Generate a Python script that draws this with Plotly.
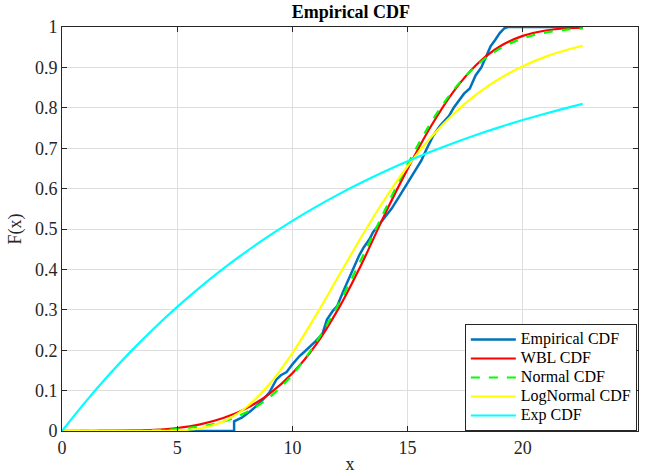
import plotly.graph_objects as go

# ---- data ----
x_fit = [0, 1, 2, 3, 4, 5, 6, 7, 8, 9, 10, 11, 12, 13, 14, 15, 16, 17, 18, 19, 20, 21, 22, 22.6]

wbl_cdf = [0.0, 0.0, 0.0001, 0.0008, 0.0027, 0.0074, 0.0165, 0.0320, 0.0560, 0.0920, 0.1430, 0.2120,
           0.3030, 0.4130, 0.5350, 0.6488, 0.7531, 0.8408, 0.9071, 0.9517, 0.9780, 0.9914, 0.9972, 0.9987]

normal_cdf = [0.0, 0.0001, 0.0003, 0.0007, 0.0020, 0.0049, 0.0113, 0.0237, 0.0462, 0.0833, 0.1392, 0.2165,
              0.3138, 0.4263, 0.5453, 0.6602, 0.7620, 0.8442, 0.9051, 0.9464, 0.9719, 0.9864, 0.9939, 0.9964]

lognormal_cdf = [0.0, 0.0, 0.0, 0.0, 0.0001, 0.0012, 0.0069, 0.0237, 0.0588, 0.1157, 0.1928, 0.2844,
                 0.3829, 0.4809, 0.5730, 0.6553, 0.7261, 0.7854, 0.8338, 0.8725, 0.9029, 0.9266, 0.9448, 0.9535]

exp_cdf = [0.0, 0.0708, 0.1366, 0.1977, 0.2545, 0.3073, 0.3563, 0.4019, 0.4442, 0.4835, 0.5201, 0.5541,
           0.5857, 0.6150, 0.6423, 0.6676, 0.6911, 0.7130, 0.7333, 0.7522, 0.7697, 0.7860, 0.8012, 0.8097]

emp_x = [0, 7.47, 7.47, 7.8, 8.2, 8.6, 9.0, 9.3, 9.5, 9.75, 10.0, 10.3, 10.5, 10.8, 11.0, 11.3, 11.5,
         11.75, 11.95, 12.2, 12.5, 12.65, 12.9, 13.1, 13.35, 13.5, 13.75, 14.05, 14.3, 14.6, 14.85, 15.1,
         15.35, 15.6, 15.8, 16.1, 16.4, 16.8, 17.0, 17.25, 17.45, 17.7, 17.95, 18.2, 18.4, 18.6, 18.8,
         19.0, 19.2, 19.35, 22.6]
emp_y = [0, 0, 0.024, 0.033, 0.05, 0.07, 0.095, 0.127, 0.138, 0.146, 0.165, 0.185, 0.195, 0.21, 0.222,
         0.24, 0.276, 0.297, 0.31, 0.345, 0.382, 0.40, 0.435, 0.455, 0.475, 0.492, 0.51, 0.53, 0.55, 0.577,
         0.60, 0.625, 0.645, 0.67, 0.695, 0.73, 0.755, 0.78, 0.80, 0.82, 0.835, 0.848, 0.88, 0.90, 0.925,
         0.952, 0.968, 0.985, 0.997, 1.0, 1.0]

series_names = ["Empirical CDF", "WBL CDF", "Normal CDF", "LogNormal CDF", "Exp CDF"]

x_ticks = [0, 5, 10, 15, 20, 25]
x_tick_text = ["0", "5", "10", "15", "20", "25"]
y_ticks = [0, 0.1, 0.2, 0.3, 0.4, 0.5, 0.6, 0.7, 0.8, 0.9, 1]
y_tick_text = ["0", "0.1", "0.2", "0.3", "0.4", "0.5", "0.6", "0.7", "0.8", "0.9", "1"]

FONT = "Liberation Serif"
AX = "#262626"


def lg(name):
    return ('<span style="font-family:Liberation Serif;font-size:16px">' + name + '</span>')


fig = go.Figure()
fig.add_trace(go.Scatter(x=emp_x, y=emp_y, mode="lines", name=lg(series_names[0]),
                         line=dict(color="#0072BD", width=2.5)))
fig.add_trace(go.Scatter(x=x_fit, y=wbl_cdf, mode="lines", name=lg(series_names[1]),
                         line=dict(color="#FF0000", width=2.2, shape="spline")))
fig.add_trace(go.Scatter(x=x_fit, y=normal_cdf, mode="lines", name=lg(series_names[2]),
                         line=dict(color="#00FF00", width=2.2, dash="dash", shape="spline")))
fig.add_trace(go.Scatter(x=x_fit, y=lognormal_cdf, mode="lines", name=lg(series_names[3]),
                         line=dict(color="#FFFF00", width=2.2, shape="spline")))
fig.add_trace(go.Scatter(x=x_fit, y=exp_cdf, mode="lines", name=lg(series_names[4]),
                         line=dict(color="#00FFFF", width=2.2, shape="spline")))

axis_common = dict(showline=True, linecolor=AX, linewidth=1, mirror="ticks",
                   ticks="inside", ticklen=5, tickcolor=AX, showgrid=True,
                   gridcolor="#dedede", gridwidth=1, zeroline=False,
                   tickfont=dict(family=FONT, size=18, color=AX))

fig.update_layout(
    width=645, height=476,
    margin=dict(l=62, r=6, t=27, b=40),
    paper_bgcolor="white", plot_bgcolor="white",
    title=dict(text="<b>Empirical CDF</b>", x=0.544, xanchor="center",
               y=1 - 12 / 476, yanchor="middle", yref="container",
               font=dict(family=FONT, size=18, color="black")),
    xaxis=dict(range=[0, 25], tickvals=x_ticks, ticktext=x_tick_text,
               title=dict(text="x", font=dict(family=FONT, size=18, color=AX), standoff=0),
               **axis_common),
    yaxis=dict(range=[0, 1], tickvals=y_ticks, ticktext=y_tick_text,
               title=dict(text="F(x)", font=dict(family=FONT, size=18, color=AX), standoff=8),
               **axis_common),
    legend=dict(x=0.998, y=0.0, xanchor="right", yanchor="bottom",
                bgcolor="white", bordercolor=AX, borderwidth=1,
                font=dict(family=FONT, size=12, color="black"),
                tracegroupgap=0, itemwidth=45),
    showlegend=True,
)

fig.write_html("out.html", config={"displayModeBar": False},
               post_script="document.body.style.margin='0';")
